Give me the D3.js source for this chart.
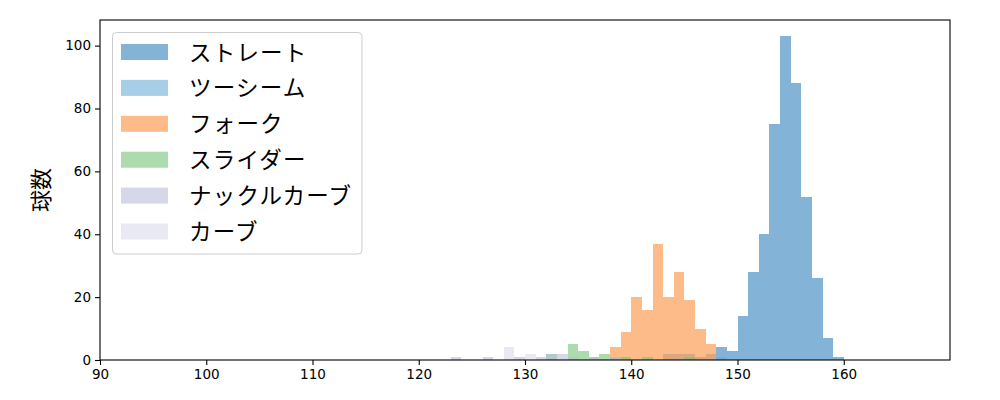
<!DOCTYPE html>
<html>
<head>
<meta charset="utf-8">
<script src="https://cdn.jsdelivr.net/npm/d3@7"></script>
<style>
  body { margin: 0; background: #fff; }
  svg { display: block; }
</style>
</head>
<body>
<svg id="chart" width="1000" height="400"></svg>
<script>
// ---- data (bin start km/h, count); bins are 1 km/h wide ----
const seriesNames = ["ストレート", "ツーシーム", "フォーク", "スライダー", "ナックルカーブ", "カーブ"];
const straightBins = [148,149,150,151,152,153,154,155,156,157,158,159];
const straightCounts = [4,3,14,28,40,75,103,88,52,26,7,1];
const twoSeamBins = [143,144,145,146,147,148];
const twoSeamCounts = [2,2,2,1,2,1];
const forkBins = [138,139,140,141,142,143,144,145,146,147];
const forkCounts = [4,9,20,16,37,20,28,19,10,5];
const sliderBins = [132,134,135,136,137,138,139,141,145];
const sliderCounts = [2,5,3,1,2,1,1,1,1];
const knuckleBins = [123,126,129,131,132,133,134,136,138];
const knuckleCounts = [1,1,1,1,2,2,1,1,1];
const curveBins = [128,130];
const curveCounts = [4,2];
const xTicks = [90,100,110,120,130,140,150,160];
const yTicks = [0,20,40,60,80,100];
const colors = ["#3182bd", "#6baed6", "#fd8d3c", "#74c476", "#bcbddc", "#dadaeb"];

const series = [
  {name: seriesNames[0], bins: straightBins, counts: straightCounts},
  {name: seriesNames[1], bins: twoSeamBins, counts: twoSeamCounts},
  {name: seriesNames[2], bins: forkBins, counts: forkCounts},
  {name: seriesNames[3], bins: sliderBins, counts: sliderCounts},
  {name: seriesNames[4], bins: knuckleBins, counts: knuckleCounts},
  {name: seriesNames[5], bins: curveBins, counts: curveCounts}
];

const svg = d3.select("#chart");
const m = {left: 100, right: 50, top: 20, bottom: 40};
const W = 1000, H = 400;
const x = d3.scaleLinear().domain([90, 170]).range([m.left, W - m.right]);
const maxC = d3.max(series, s => d3.max(s.counts));
const y = d3.scaleLinear().domain([0, maxC * 1.05]).range([H - m.bottom, m.top]);

const plot = svg.append("g");
series.forEach((s, i) => {
  plot.append("g").selectAll("rect")
    .data(s.bins.map((b, j) => ({b, c: s.counts[j]})))
    .join("rect")
    .attr("x", d => x(d.b))
    .attr("width", d => x(d.b + 1) - x(d.b))
    .attr("y", d => y(d.c))
    .attr("height", d => y(0) - y(d.c))
    .attr("fill", colors[i])
    .attr("fill-opacity", 0.6)
    .attr("shape-rendering", "crispEdges");
});

// axes
const tickFont = "DejaVu Sans, sans-serif";
const xAxis = svg.append("g").attr("transform", `translate(0,${H - m.bottom})`)
  .call(d3.axisBottom(x).tickValues(xTicks).tickSize(5).tickPadding(4).tickFormat(d3.format("d")));
const yAxis = svg.append("g").attr("transform", `translate(${m.left},0)`)
  .call(d3.axisLeft(y).tickValues(yTicks).tickSize(5).tickPadding(4).tickFormat(d3.format("d")));
[xAxis, yAxis].forEach(a => {
  a.select(".domain").remove();
  a.selectAll(".tick line").attr("stroke", "#000").attr("stroke-width", 1.1);
  a.selectAll(".tick text").attr("font-family", tickFont).attr("font-size", 13.5).attr("fill", "#000");
});

// frame
svg.append("rect")
  .attr("x", m.left).attr("y", m.top)
  .attr("width", W - m.left - m.right).attr("height", H - m.top - m.bottom)
  .attr("fill", "none").attr("stroke", "#000").attr("stroke-width", 1.1);

// y label
svg.append("text")
  .attr("transform", `translate(39,${(m.top + H - m.bottom) / 2}) rotate(-90)`)
  .attr("text-anchor", "middle").attr("dominant-baseline", "central")
  .attr("font-family", "Noto Sans CJK JP, sans-serif").attr("font-size", 22)
  .text("球数");

// legend
const lg = svg.append("g");
lg.append("rect")
  .attr("x", 112.5).attr("y", 32.5).attr("width", 249.5).attr("height", 221.5)
  .attr("rx", 4).attr("fill", "#fff").attr("fill-opacity", 0.8)
  .attr("stroke", "#cccccc").attr("stroke-width", 1);
series.forEach((s, i) => {
  const cy = 52 + i * 35.9;
  lg.append("rect").attr("x", 121).attr("y", cy - 8).attr("width", 47).attr("height", 16)
    .attr("fill", colors[i]).attr("fill-opacity", 0.6);
  lg.append("text").attr("x", 189).attr("y", cy - 1.5).attr("dominant-baseline", "central")
    .attr("font-family", "Noto Sans CJK JP, sans-serif").attr("font-size", 22.5)
    .attr("letter-spacing", 1.2)
    .attr("fill", "#000").text(s.name);
});
</script>
</body>
</html>
